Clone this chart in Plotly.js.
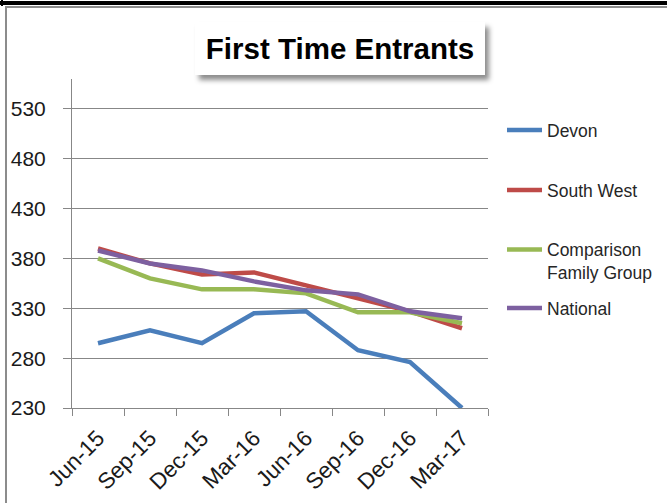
<!DOCTYPE html>
<html>
<head>
<meta charset="utf-8">
<script src="https://cdn.plot.ly/plotly-3.0.1.min.js"></script>
<style>
  html, body { margin:0; padding:0; background:#fff; }
  #wrap { position:relative; width:667px; height:503px; overflow:hidden; background:#fff; }
  #topbar { position:absolute; left:0; top:1px; width:667px; height:4px; background:#000; }
  #leftblack { position:absolute; left:1px; top:0; width:2px; height:6px; background:#000; }
  #frameTop { position:absolute; left:5px; top:6px; width:662px; height:2px; background:#8c8c8c; }
  #frameLeft { position:absolute; left:5px; top:6px; width:2px; height:497px; background:#8c8c8c; }
  #titlebox { position:absolute; left:195px; top:22px; width:290px; height:53px; background:#fff;
              box-shadow: 4px 5px 5px rgba(0,0,0,0.45); }
  #chart { position:absolute; left:0; top:0; width:667px; height:503px; }
</style>
</head>
<body>
<div id="wrap">
  <div id="topbar"></div>
  <div id="leftblack"></div>
  <div id="frameTop"></div>
  <div id="frameLeft"></div>
  <div id="titlebox"></div>
  <div id="chart"></div>
</div>
<script>
const categories = ["Jun-15","Sep-15","Dec-15","Mar-16","Jun-16","Sep-16","Dec-16","Mar-17"];
const devon      = [295, 308, 295, 325, 327, 288, 276, 230];
const southWest  = [390, 375, 364, 366, 353, 340, 327, 310];
const comparison = [380, 360, 349, 349, 345, 326, 326, 315];
const national   = [388, 375, 368, 357, 348, 344, 327, 320];
const seriesNames = ["Devon", "South West", "Comparison<br>Family Group", "National"];
const seriesColors = ["#4A7EBB", "#BE4B48", "#98B954", "#7D60A0"];
const yTickVals = [230, 280, 330, 380, 430, 480, 530];

const FONT = "Liberation Sans, Arial, sans-serif";
const seriesData = [devon, southWest, comparison, national];
const legendIds = ["legend", "legend2", "legend3", "legend4"];

const traces = seriesData.map((vals, i) => ({
  type: "scatter",
  mode: "lines",
  x: categories,
  y: vals,
  name: seriesNames[i],
  line: { color: seriesColors[i], width: 4.5 },
  legend: legendIds[i],
  hoverinfo: "skip"
}));

const H = 503, W = 667;
const legendCenters = [130, 190, 261, 308];
const legendBase = {
  xref: "container", yref: "container",
  x: 507 / W, xanchor: "left", yanchor: "middle",
  bgcolor: "rgba(0,0,0,0)", borderwidth: 0,
  font: { family: FONT, size: 17.5, color: "#262626" },
  valign: "top", itemclick: false, itemdoubleclick: false
};
const layout = {
  width: W, height: H,
  paper_bgcolor: "rgba(0,0,0,0)",
  plot_bgcolor: "rgba(0,0,0,0)",
  margin: { l: 72, r: 179, t: 79, b: 95, pad: 0 },
  title: {
    text: "<b>First Time Entrants</b>",
    font: { family: FONT, size: 29.5, color: "#000" },
    xref: "container", yref: "container",
    x: 340 / W, xanchor: "center",
    y: 1 - 49 / H, yanchor: "middle"
  },
  xaxis: {
    type: "category",
    tickson: "boundaries",
    ticks: "outside", ticklen: 7, tickcolor: "#878787", tickwidth: 1,
    showline: true, linecolor: "#878787", linewidth: 1,
    showgrid: false, zeroline: false,
    tickangle: -45,
    tickfont: { family: FONT, size: 22.5, color: "#1a1a1a" },
    ticklabelstandoff: 7,
    range: [-0.5, 7.5]
  },
  yaxis: {
    range: [230, 560],
    tickmode: "array", tickvals: yTickVals, ticktext: yTickVals.map(String),
    ticks: "outside", ticklen: 8, tickcolor: "#878787", tickwidth: 1,
    showline: true, linecolor: "#878787", linewidth: 1,
    showgrid: true, gridcolor: "#878787", gridwidth: 1,
    zeroline: false,
    tickfont: { family: FONT, size: 21, color: "#1a1a1a" },
    ticklabelstandoff: 13
  },
  showlegend: true,
  hovermode: false
};
legendIds.forEach((id, i) => {
  layout[id] = Object.assign({}, legendBase, { y: 1 - legendCenters[i] / H });
});

function stretchLegendLines() {
  document.querySelectorAll("#chart .legendlines path").forEach(p => {
    p.setAttribute("d", "M-17,0h52");
  });
}

Plotly.newPlot("chart", traces, layout, { staticPlot: true, displayModeBar: false })
  .then(gd => { stretchLegendLines(); gd.on("plotly_afterplot", stretchLegendLines); });
</script>
</body>
</html>
